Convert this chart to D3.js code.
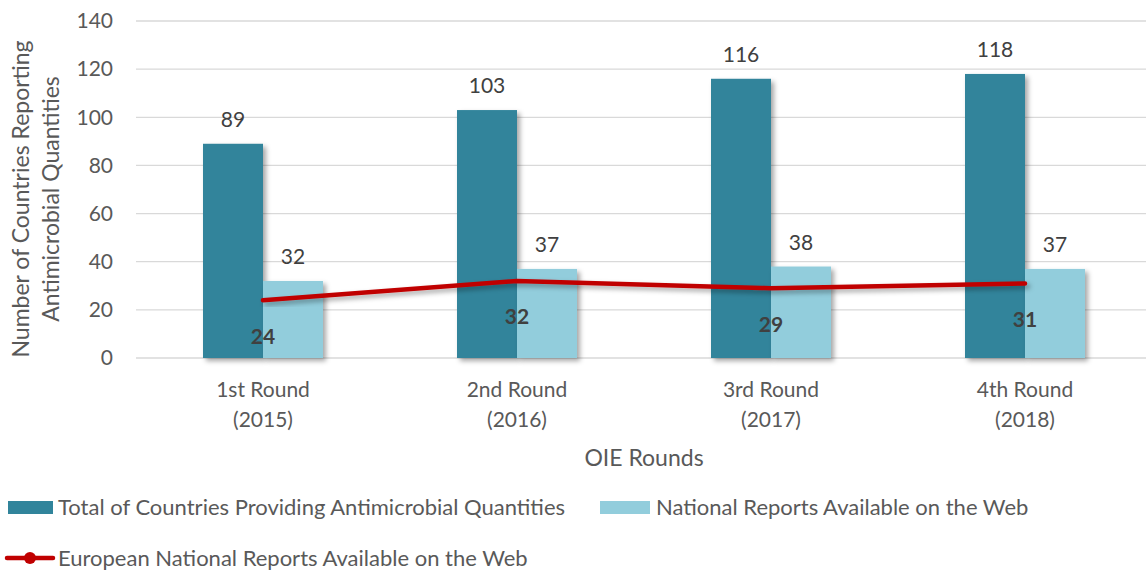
<!DOCTYPE html>
<html>
<head>
<meta charset="utf-8">
<script src="https://cdn.jsdelivr.net/npm/d3@7"></script>
<style>
  body { margin: 0; background: #fff; }
  svg { font-family: Lato, "Open Sans", sans-serif; }
</style>
</head>
<body>
<svg width="1146" height="572"></svg>
<script>
// chart data
const rounds = ['1st Round|(2015)', '2nd Round|(2016)', '3rd Round|(2017)', '4th Round|(2018)'];
const totalCountries = [89, 103, 116, 118];
const nationalReports = [32, 37, 38, 37];
const europeanReports = [24, 32, 29, 31];
const yTicks = [0, 20, 40, 60, 80, 100, 120, 140];

const darkC = '#31849B', lightC = '#92CDDC', redC = '#C00000', textC = '#595959';

const svg = d3.select('svg'),
      plotL = 136, plotR = 1152, plotT = 21, plotB = 358;

const defs = svg.append('defs');
defs.append('filter').attr('id', 'shadow')
  .attr('x', '-20%').attr('y', '-20%').attr('width', '150%').attr('height', '150%')
  .append('feDropShadow')
  .attr('dx', 3).attr('dy', 3).attr('stdDeviation', 2.5)
  .attr('flood-color', '#000').attr('flood-opacity', 0.35);

const x = d3.scaleBand().domain(rounds).range([plotL, plotR]);
const y = d3.scaleLinear().domain([0, 140]).range([plotB, plotT]);
const barW = 60;

// gridlines
svg.append('g')
  .selectAll('line')
  .data(yTicks)
  .enter()
  .append('line')
  .attr('x1', plotL).attr('x2', 1146)
  .attr('y1', d => y(d)).attr('y2', d => y(d))
  .attr('stroke', '#d9d9d9').attr('stroke-width', 1.3);

// y tick labels
svg.append('g')
  .selectAll('text')
  .data(yTicks)
  .enter()
  .append('text')
  .attr('x', 113).attr('y', d => y(d))
  .attr('dy', '0.35em')
  .attr('text-anchor', 'end')
  .attr('font-size', 21)
  .attr('fill', textC)
  .text(d => d);

// y axis title
const yt = svg.append('text')
  .attr('transform', `translate(21, 199) rotate(-90)`)
  .attr('text-anchor', 'middle')
  .attr('font-size', 23)
  .attr('fill', textC);
yt.append('tspan').attr('x', 0).attr('dy', '0.35em').text('Number of Countries Reporting');
yt.append('tspan').attr('x', 0).attr('dy', '1.3em').text('Antimicrobial Quantities');

// bars
const cx = d => x(d) + x.bandwidth() / 2;

svg.append('g')
  .attr('filter', 'url(#shadow)')
  .selectAll('rect')
  .data(rounds)
  .enter()
  .append('rect')
  .attr('x', d => cx(d) - barW)
  .attr('y', (d, i) => y(totalCountries[i]))
  .attr('width', barW)
  .attr('height', (d, i) => plotB - y(totalCountries[i]))
  .attr('fill', darkC);

svg.append('g')
  .attr('filter', 'url(#shadow)')
  .selectAll('rect')
  .data(rounds)
  .enter()
  .append('rect')
  .attr('x', d => cx(d))
  .attr('y', (d, i) => y(nationalReports[i]))
  .attr('width', barW)
  .attr('height', (d, i) => plotB - y(nationalReports[i]))
  .attr('fill', lightC);

// bar value labels
svg.append('g')
  .selectAll('text')
  .data(rounds)
  .enter()
  .append('text')
  .attr('x', d => cx(d) - barW / 2)
  .attr('y', (d, i) => y(totalCountries[i]) - 24)
  .attr('dy', '0.35em')
  .attr('text-anchor', 'middle')
  .attr('font-size', 21)
  .attr('fill', '#404040')
  .text((d, i) => totalCountries[i]);

svg.append('g')
  .selectAll('text')
  .data(rounds)
  .enter()
  .append('text')
  .attr('x', d => cx(d) + barW / 2)
  .attr('y', (d, i) => y(nationalReports[i]) - 24)
  .attr('dy', '0.35em')
  .attr('text-anchor', 'middle')
  .attr('font-size', 21)
  .attr('fill', '#404040')
  .text((d, i) => nationalReports[i]);

// european line
const line = d3.line()
  .x(d => cx(d))
  .y((d, i) => y(europeanReports[i]));

svg.append('path')
  .datum(rounds)
  .attr('d', line)
  .attr('fill', 'none')
  .attr('stroke', redC)
  .attr('stroke-width', 4.5)
  .attr('stroke-linecap', 'round')
  .attr('filter', 'url(#shadow)');

svg.append('g')
  .selectAll('text')
  .data(rounds)
  .enter()
  .append('text')
  .attr('x', d => cx(d))
  .attr('y', (d, i) => y(europeanReports[i]) + 36)
  .attr('dy', '0.35em')
  .attr('text-anchor', 'middle')
  .attr('font-size', 21)
  .attr('font-weight', 'bold')
  .attr('fill', '#404040')
  .text((d, i) => europeanReports[i]);

// x labels
const xl = svg.append('g')
  .selectAll('text')
  .data(rounds)
  .enter()
  .append('text')
  .attr('x', d => cx(d))
  .attr('y', 390)
  .attr('text-anchor', 'middle')
  .attr('font-size', 21)
  .attr('fill', textC);
xl.append('tspan').attr('x', d => cx(d)).attr('dy', '0.35em').text(d => d.split('|')[0]);
xl.append('tspan').attr('x', d => cx(d)).attr('dy', '1.4em').text(d => d.split('|')[1]);

svg.append('text')
  .attr('x', 644).attr('y', 458).attr('dy', '0.35em')
  .attr('text-anchor', 'middle')
  .attr('font-size', 23)
  .attr('fill', textC)
  .text('OIE Rounds');

// legend
const lg = svg.append('g').attr('font-size', 22).attr('fill', textC);
lg.append('rect').attr('x', 8).attr('y', 501).attr('width', 45).attr('height', 13).attr('fill', darkC);
lg.append('text').attr('x', 58).attr('y', 507).attr('dy', '0.35em')
  .text('Total of Countries Providing Antimicrobial Quantities');
lg.append('rect').attr('x', 600).attr('y', 501).attr('width', 50).attr('height', 13).attr('fill', lightC);
lg.append('text').attr('x', 656).attr('y', 507).attr('dy', '0.35em')
  .text('National Reports Available on the Web');
lg.append('line').attr('x1', 7).attr('x2', 53).attr('y1', 558).attr('y2', 558)
  .attr('stroke', redC).attr('stroke-width', 4.5).attr('stroke-linecap', 'round');
lg.append('circle').attr('cx', 30).attr('cy', 558).attr('r', 6).attr('fill', redC);
lg.append('text').attr('x', 58).attr('y', 558).attr('dy', '0.35em')
  .text('European National Reports Available on the Web');
</script>
</body>
</html>
